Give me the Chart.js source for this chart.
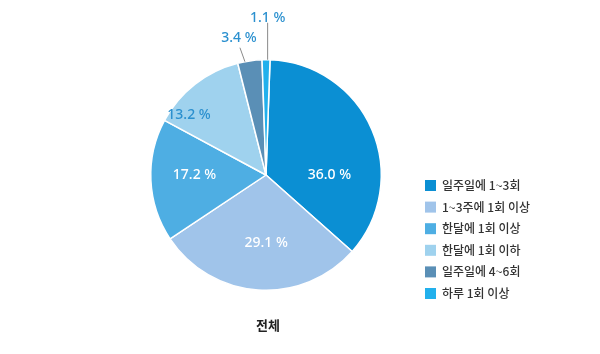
<!DOCTYPE html>
<html><head><meta charset="utf-8">
<script src="https://cdn.jsdelivr.net/npm/chart.js@4"></script>
<style>html,body{margin:0;padding:0;background:#fff}#wrap{width:600px;height:354px}</style>
</head><body><div id="wrap"><canvas id="c" width="600" height="354"></canvas></div>
<script>
const categories = ['일주일에 1~3회','1~3주에 1회 이상','한달에 1회 이상','한달에 1회 이하','일주일에 4~6회','하루 1회 이상'];
const values = [36.0, 29.1, 17.2, 13.2, 3.4, 1.1];
const valueLabels = ['36.0 %','29.1 %','17.2 %','13.2 %','3.4 %','1.1 %'];
const colors = ['#0b8fd3','#a0c4ea','#4eaee3','#9fd2ee','#5a8fb6','#22b0ec'];
const title = '전체';

const labelStyle = [
  {f:0.68, r:0.55, color:'#ffffff'},
  {f:0.46, r:0.59, color:'#ffffff'},
  {f:0.54, r:0.62, color:'#ffffff'},
  {f:0.20, r:0.845, color:'#2b90cf'},
  {outside:true, f:0.3, lx:-5, ly:-14, tx:-6, ty:-24, color:'#2b90cf'},
  {outside:true, f:0.7, lx:0, ly:-37, tx:0, ty:-42, color:'#2b90cf'}
];

const plugin = {
  id:'custom',
  afterDraw(chart){
    const ctx = chart.ctx;
    const meta = chart.getDatasetMeta(0);
    ctx.save();
    meta.data.forEach((arc,i)=>{
      const s = labelStyle[i];
      const cx = arc.x, cy = arc.y, R = arc.outerRadius;
      const a = arc.startAngle + (arc.endAngle-arc.startAngle)*s.f;
      ctx.font = '500 14px "Noto Sans", Lato, sans-serif';
      ctx.textAlign='center'; ctx.textBaseline='middle';
      ctx.fillStyle = s.color;
      if(!s.outside){
        ctx.fillText(valueLabels[i], cx+Math.cos(a)*R*s.r, cy+Math.sin(a)*R*s.r);
      } else {
        const px = cx+Math.cos(a)*R, py = cy+Math.sin(a)*R;
        ctx.strokeStyle='#8a8a8a'; ctx.lineWidth=1;
        ctx.beginPath(); ctx.moveTo(px,py); ctx.lineTo(px+s.lx, py+s.ly); ctx.stroke();
        ctx.fillText(valueLabels[i], px+s.tx, py+s.ty);
      }
    });
    const lx = 425, ly0 = 185.5, step = 21.6;
    ctx.textAlign='left'; ctx.textBaseline='middle';
    ctx.font = '500 12px "Noto Sans CJK KR", sans-serif';
    categories.forEach((c,i)=>{
      const y = ly0 + i*step;
      ctx.fillStyle = colors[i];
      ctx.fillRect(lx, y-5.5, 11, 11);
      ctx.fillStyle = '#333';
      ctx.fillText(c, lx+17, y);
    });
    ctx.textAlign='center';
    ctx.font = 'bold 13px "Noto Sans CJK KR", sans-serif';
    ctx.fillStyle='#222';
    ctx.fillText(title, 268, 325);
    ctx.restore();
  }
};

new Chart(document.getElementById('c'), {
  type:'pie',
  data:{labels:categories, datasets:[{data:values, backgroundColor:colors, borderColor:'#ffffff', borderWidth:1.5}]},
  options:{
    responsive:false, animation:false, rotation:2,
    layout:{padding:{left:150, right:218, top:59, bottom:63}},
    plugins:{legend:{display:false}, tooltip:{enabled:false}}
  },
  plugins:[plugin]
});
</script></body></html>
